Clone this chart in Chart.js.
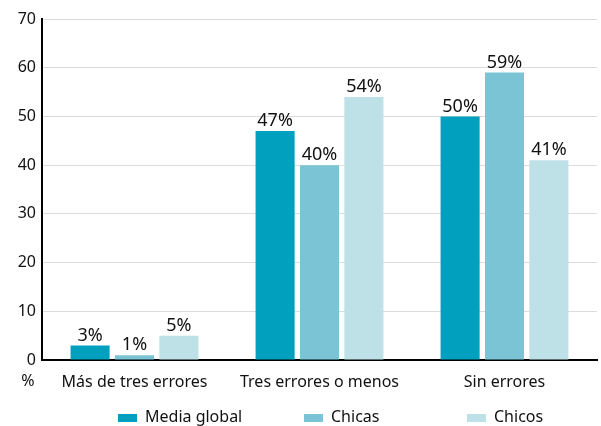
<!DOCTYPE html>
<html>
<head>
<meta charset="utf-8">
<script src="https://cdn.jsdelivr.net/npm/chart.js@4"></script>
<style>
  html, body { margin: 0; padding: 0; background: #fff; }
  #wrap { width: 601px; height: 426px; }
</style>
</head>
<body>
<div id="wrap"><canvas id="chart" width="601" height="426"></canvas></div>
<script>
const categories = ['Más de tres errores', 'Tres errores o menos', 'Sin errores'];
const seriesNames = ['Media global', 'Chicas', 'Chicos'];
const mediaGlobal = [3, 47, 50];
const chicas = [1, 40, 59];
const chicos = [5, 54, 41];
const yTicks = [0, 10, 20, 30, 40, 50, 60, 70];
const colors = ['#00A0BE', '#7AC4D5', '#BEE0E7'];

const FONT = "'Noto Sans', sans-serif";

// value labels above bars
const barLabels = {
    id: 'barLabels',
    afterDatasetsDraw(chart) {
        const ctx = chart.ctx;
        ctx.save();
        ctx.font = '18px ' + FONT;
        ctx.fillStyle = '#111';
        ctx.textAlign = 'center';
        ctx.textBaseline = 'bottom';
        chart.data.datasets.forEach((ds, i) => {
            chart.getDatasetMeta(i).data.forEach((bar, j) => {
                ctx.fillText(ds.data[j] + '%', bar.x, bar.y - 1);
            });
        });
        ctx.restore();
    }
};

// "%" unit under the y axis + legend row along the bottom
const extras = {
    id: 'extras',
    afterDraw(chart) {
        const ctx = chart.ctx;
        const y = chart.scales.y;
        ctx.save();
        ctx.font = '16px ' + FONT;
        ctx.fillStyle = '#111';
        ctx.textAlign = 'center';
        ctx.textBaseline = 'middle';
        ctx.fillText('%', 28, y.bottom + 21);

        const legendX = [118, 304, 467];
        ctx.textAlign = 'left';
        chart.data.datasets.forEach((ds, i) => {
            ctx.fillStyle = ds.backgroundColor;
            ctx.fillRect(legendX[i], 414, 19, 8);
            ctx.fillStyle = '#111';
            ctx.fillText(ds.label, legendX[i] + 27, 417);
        });
        ctx.restore();
    }
};

new Chart(document.getElementById('chart'), {
    type: 'bar',
    data: {
        labels: categories,
        datasets: [
            { label: seriesNames[0], data: mediaGlobal, backgroundColor: colors[0] },
            { label: seriesNames[1], data: chicas, backgroundColor: colors[1] },
            { label: seriesNames[2], data: chicos, backgroundColor: colors[2] }
        ]
    },
    options: {
        responsive: false,
        animation: false,
        categoryPercentage: 0.72,
        barPercentage: 0.88,
        layout: { padding: { top: 19, right: 4, left: 0, bottom: 26 } },
        plugins: {
            legend: { display: false },
            tooltip: { enabled: false }
        },
        scales: {
            x: {
                grid: { display: false },
                border: { color: '#000', width: 2 },
                afterFit: s => { s.height = 40; },
                ticks: { font: { family: FONT, size: 16 }, color: '#111', padding: 5 }
            },
            y: {
                min: 0,
                max: 70,
                afterBuildTicks: s => { s.ticks = yTicks.map(v => ({ value: v })); },
                afterFit: s => { s.width = 42; },
                grid: { color: '#dcdcdc', drawTicks: false },
                border: { color: '#000', width: 2 },
                ticks: { font: { family: FONT, size: 16 }, color: '#111', padding: 6 }
            }
        }
    },
    plugins: [barLabels, extras]
});
</script>
</body>
</html>
